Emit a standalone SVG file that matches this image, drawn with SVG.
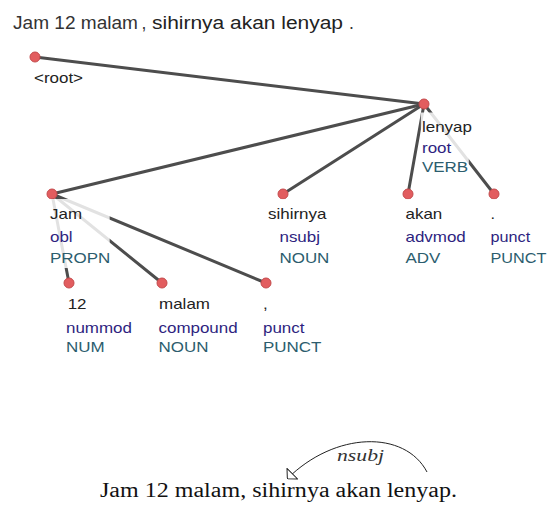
<svg xmlns="http://www.w3.org/2000/svg" width="548" height="509" viewBox="0 0 548 509">
  <defs>
    <style>
      .title { font-family: "Liberation Sans", Arial, sans-serif; font-size: 17.5px; fill: #333; }
      .edge { stroke: #4d4d4d; stroke-width: 3; stroke-linecap: round; fill: none; }
      .dot { fill: #e25d5f; stroke: #c44a4c; stroke-width: 1; }
      .lbl text { font-family: "Liberation Sans", Arial, sans-serif; font-size: 14.5px; }
      .lbl rect { fill: #fff; fill-opacity: 0.84; }
      .word { fill: #222; }
      .rel { fill: #2e1f80; }
      .pos { fill: #2c5d6e; }
      .sent { font-family: "Liberation Serif", "Times New Roman", serif; font-size: 20.5px; fill: #111; }
      .arclbl { font-family: "Liberation Serif", "Times New Roman", serif; font-size: 16px; font-style: italic; fill: #333; }
      .arc { stroke: #222; stroke-width: 1; fill: none; }
    </style>
    <marker id="open-head" viewBox="0 0 8 16" refX="8" refY="8" markerWidth="8" markerHeight="16" markerUnits="userSpaceOnUse" orient="auto">
      <path d="M0.5,0.5 L7.5,8 L0.5,15.5 Z" fill="#fff" stroke="#222" stroke-width="1"/>
    </marker>
  </defs>

  <!-- sentence heading -->
  <g id="heading">
    <text class="title" x="13" y="29" textLength="125" lengthAdjust="spacingAndGlyphs">Jam 12 malam</text>
    <text class="title" x="141.5" y="29">,</text>
    <text class="title" x="152" y="29" textLength="191" lengthAdjust="spacingAndGlyphs" style="fill:#222">sihirnya akan lenyap</text>
    <text class="title" x="349" y="29">.</text>
  </g>

  <!-- dependency edges -->
  <g id="edges">
    <line class="edge" x1="35" y1="57" x2="424" y2="104"/>
    <line class="edge" x1="424" y1="104" x2="52" y2="194"/>
    <line class="edge" x1="424" y1="104" x2="283" y2="194"/>
    <line class="edge" x1="424" y1="104" x2="408" y2="194"/>
    <line class="edge" x1="424" y1="104" x2="494" y2="194"/>
    <line class="edge" x1="52" y1="194" x2="69" y2="283"/>
    <line class="edge" x1="52" y1="194" x2="162" y2="283"/>
    <line class="edge" x1="52" y1="194" x2="266" y2="283"/>
  </g>

  <!-- tree nodes -->
  <g id="node-root">
    <circle class="dot" cx="35" cy="57" r="5"/>
    <g class="lbl" transform="translate(34,83) scale(1.17,1)">
      <rect x="-1" y="-14" width="42" height="19"/>
      <text class="word" x="0" y="0">&lt;root&gt;</text>
    </g>
  </g>

  <g id="node-lenyap">
    <circle class="dot" cx="424" cy="104" r="5"/>
    <g class="lbl" transform="translate(422,131.5) scale(1.17,1)">
      <rect x="-1" y="-19" width="41" height="66"/>
      <text class="word" x="0" y="0">lenyap</text>
      <text class="rel" x="0" y="21.5">root</text>
      <text class="pos" x="0" y="41">VERB</text>
    </g>
  </g>

  <g id="node-jam">
    <circle class="dot" cx="52" cy="194" r="5"/>
    <g class="lbl" transform="translate(50,219) scale(1.17,1)">
      <rect x="-1" y="-20" width="52" height="69"/>
      <text class="word" x="0" y="0">Jam</text>
      <text class="rel" x="0" y="23.5">obl</text>
      <text class="pos" x="0" y="44">PROPN</text>
    </g>
  </g>

  <g id="node-sihirnya">
    <circle class="dot" cx="283" cy="194" r="5"/>
    <g class="lbl" transform="translate(268,219) scale(1.17,1)">
      <rect x="-1" y="-20" width="53" height="69"/>
      <text class="word" x="0" y="0">sihirnya</text>
      <text class="rel" x="9.8" y="23.5">nsubj</text>
      <text class="pos" x="9.8" y="44">NOUN</text>
    </g>
  </g>

  <g id="node-akan">
    <circle class="dot" cx="408" cy="194" r="5"/>
    <g class="lbl" transform="translate(405.5,219) scale(1.17,1)">
      <rect x="-1" y="-20" width="52" height="69"/>
      <text class="word" x="0" y="0">akan</text>
      <text class="rel" x="0" y="23.5">advmod</text>
      <text class="pos" x="0" y="44">ADV</text>
    </g>
  </g>

  <g id="node-period">
    <circle class="dot" cx="494" cy="194" r="5"/>
    <g class="lbl" transform="translate(490.5,219) scale(1.12,1)">
      <rect x="-1" y="-20" width="51" height="69"/>
      <text class="word" x="0" y="0">.</text>
      <text class="rel" x="0" y="23.5">punct</text>
      <text class="pos" x="0" y="44">PUNCT</text>
    </g>
  </g>

  <g id="node-12">
    <circle class="dot" cx="69" cy="283" r="5"/>
    <g class="lbl" transform="translate(66,309) scale(1.17,1)">
      <rect x="-1" y="-20" width="57" height="68"/>
      <text class="word" x="1.4" y="0">12</text>
      <text class="rel" x="0" y="24">nummod</text>
      <text class="pos" x="0" y="43">NUM</text>
    </g>
  </g>

  <g id="node-malam">
    <circle class="dot" cx="162" cy="283" r="5"/>
    <g class="lbl" transform="translate(158.5,309) scale(1.17,1)">
      <rect x="-1" y="-20" width="69" height="68"/>
      <text class="word" x="0.5" y="0">malam</text>
      <text class="rel" x="0" y="24">compound</text>
      <text class="pos" x="0" y="43">NOUN</text>
    </g>
  </g>

  <g id="node-comma">
    <circle class="dot" cx="266" cy="283" r="5"/>
    <g class="lbl" transform="translate(263,309) scale(1.17,1)">
      <rect x="-1" y="-20" width="51" height="68"/>
      <text class="word" x="0" y="0">,</text>
      <text class="rel" x="0" y="24">punct</text>
      <text class="pos" x="0" y="43">PUNCT</text>
    </g>
  </g>

  <!-- arc-style rendering of the nsubj relation -->
  <g id="arc-nsubj">
    <path class="arc" d="M427,472 C405,430 335,431 287,479" marker-end="url(#open-head)"/>
    <text class="arclbl" x="337" y="461" textLength="47" lengthAdjust="spacingAndGlyphs">nsubj</text>
  </g>

  <g id="sentence">
    <text class="sent" x="100" y="497" textLength="357" lengthAdjust="spacingAndGlyphs">Jam 12 malam, sihirnya akan lenyap.</text>
  </g>
</svg>
